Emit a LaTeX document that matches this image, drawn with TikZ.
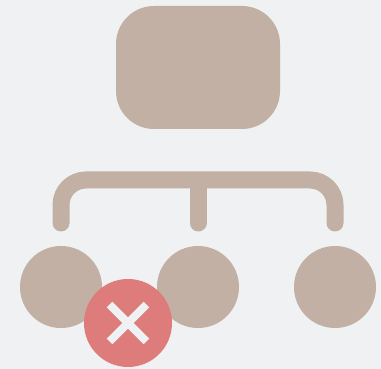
\documentclass[tikz,border=0pt]{standalone}
\usetikzlibrary{calc}

\definecolor{pagebg}{HTML}{EFF1F3}
\definecolor{tan}{HTML}{C1B0A3}
\definecolor{failred}{HTML}{DE7C7C}

\begin{document}
\begin{tikzpicture}[
  x=1pt, y=-1pt,
  parent/.style={rectangle, fill=tan, rounded corners=38pt, minimum width=164pt, minimum height=123pt, inner sep=0pt, outer sep=0pt},
  child/.style={circle, fill=tan, minimum size=82pt, inner sep=0pt, outer sep=0pt},
  fail/.style={circle, fill=failred, minimum size=88pt, inner sep=0pt, outer sep=0pt},
  wire/.style={draw=tan, line width=17pt, line cap=round, rounded corners=25pt},
  cross/.style={draw=pagebg, line width=8pt},
]

\fill[pagebg] (0,0) rectangle (381,369);
\useasboundingbox (0,0) rectangle (381,369);

% Parent
\node[parent] (top) at (198, 67.5) {};

% Children
\node[child] (c1) at (61, 287) {};
\node[child] (c2) at (198, 287) {};
\node[child] (c3) at (335, 287) {};

% Bracket
\coordinate (joint) at (198, 180);
\coordinate (s1) at (61, 223);
\coordinate (s2) at (198, 223);
\coordinate (s3) at (335, 223);
\draw[wire] (s1) |- (joint) -| (s3);
\draw[wire] ($(joint)+(0,4)$) -- (s2);

% Failure badge
\node[fail] (bad) at (128, 323) {};
\draw[cross] ($(bad)+(-18.4,-18.4)$) -- ($(bad)+(18.4,18.4)$);
\draw[cross] ($(bad)+(-18.4,18.4)$) -- ($(bad)+(18.4,-18.4)$);

\end{tikzpicture}
\end{document}
